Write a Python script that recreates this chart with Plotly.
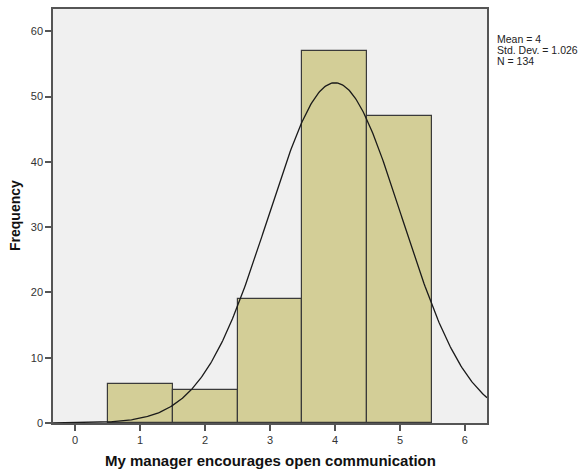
import numpy as np
import plotly.graph_objects as go

# Histogram of responses (bin centres and counts)
categories = [1, 2, 3, 4, 5]
frequencies = [6, 5, 19, 57, 47]

# Summary statistics shown in the side legend
mean_value = 4
std_dev = 1.026
n_total = 134

x_ticks = [0, 1, 2, 3, 4, 5, 6]
y_ticks = [0, 10, 20, 30, 40, 50, 60]

x_range = [-0.34, 6.34]
y_range = [0, 63.4]

# Fitted normal curve scaled to counts (bin width 1)
xs = np.linspace(x_range[0], x_range[1], 400)
ys = n_total * 1.0 / (std_dev * np.sqrt(2 * np.pi)) * np.exp(-0.5 * ((xs - mean_value) / std_dev) ** 2)

fig = go.Figure()
fig.add_trace(go.Bar(
    x=categories, y=frequencies, width=1.0,
    marker=dict(color="#D3CE97", line=dict(color="#3a3a3a", width=1.2)),
    showlegend=False, hoverinfo="x+y",
))
fig.add_trace(go.Scatter(
    x=xs, y=ys, mode="lines",
    line=dict(color="#1a1a1a", width=1.3),
    showlegend=False, hoverinfo="skip",
))

font_family = "Liberation Sans, Arial, sans-serif"

axis_common = dict(
    showgrid=False, zeroline=False, showline=True, mirror=True,
    linecolor="#555555", linewidth=1.5,
    ticks="outside", ticklen=6, tickwidth=1.5, tickcolor="#555555",
    tickfont=dict(family=font_family, size=11, color="#333333"),
    automargin=False,
)

stat_lines = [f"Mean = {mean_value}", f"Std. Dev. = {std_dev}", f"N = {n_total}"]
annotations = [
    dict(
        xref="paper", yref="paper", x=1.0, y=1.0, xshift=8, yshift=-29.5 - 11 * i,
        xanchor="left", yanchor="middle", align="left", showarrow=False,
        text=line, font=dict(family=font_family, size=10.5, color="#222222"),
    )
    for i, line in enumerate(stat_lines)
]

# Axis titles placed as annotations so the plot frame keeps its size
annotations.append(dict(
    xref="paper", yref="paper", x=0.5, y=0, yshift=-37.5,
    xanchor="center", yanchor="middle", showarrow=False,
    text="<b>My manager encourages open communication</b>",
    font=dict(family=font_family, size=15, color="#111111"),
))
annotations.append(dict(
    xref="paper", yref="paper", x=0, y=0.5, xshift=-38,
    xanchor="center", yanchor="middle", showarrow=False, textangle=-90,
    text="<b>Frequency</b>",
    font=dict(family=font_family, size=14, color="#111111"),
))

fig.update_layout(
    width=585, height=472,
    margin=dict(l=53, r=98, t=9, b=48.5),
    paper_bgcolor="white", plot_bgcolor="#F0F0F0",
    bargap=0,
    xaxis=dict(range=x_range, tickvals=x_ticks, **axis_common),
    yaxis=dict(range=y_range, tickvals=y_ticks, **axis_common),
    annotations=annotations,
)

fig.write_html("out.html")
